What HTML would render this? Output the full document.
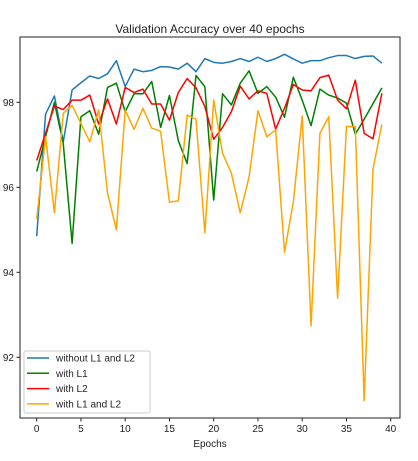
<!DOCTYPE html>
<html><head><meta charset="utf-8"><style>
body{margin:0;background:#fff;}
svg text{font-family:"Liberation Sans","DejaVu Sans",sans-serif;fill:#222;}
</style></head><body>
<svg id="chart" width="418" height="456" xmlns="http://www.w3.org/2000/svg">
<rect width="418" height="456" fill="#fff"/>
<text x="210" y="33" font-size="12" text-anchor="middle">Validation Accuracy over 40 epochs</text>
<g id="grid"></g>
<g id="series"></g>
<rect x="20" y="37" width="380" height="381" fill="none" stroke="#222" stroke-width="1"/>
<text x="210" y="447" font-size="10" text-anchor="middle">Epochs</text>
<g id="legend">
<rect x="24" y="351" width="126" height="62" rx="2" fill="#fff" fill-opacity="0.8" stroke="#ccc"/>
</g>
</svg>
<script>
const epochs=[...Array(40).keys()];
const blueVals=[94.85,97.72,98.15,97.07,98.29,98.46,98.62,98.56,98.67,98.98,98.37,98.78,98.72,98.75,98.84,98.83,98.78,98.92,98.72,99.03,98.94,98.92,98.96,99.03,98.96,99.06,98.96,99.03,99.13,99.02,98.92,98.98,98.98,99.05,99.1,99.1,99.03,99.08,99.09,98.92];
const greenVals=[96.37,97.19,98.0,97.03,94.68,97.66,97.8,97.25,98.35,98.45,97.78,98.2,98.2,98.49,97.41,98.16,97.1,96.56,98.63,98.37,95.7,98.2,97.94,98.45,98.74,98.21,98.37,98.12,97.65,98.59,98.05,97.45,98.31,98.17,98.1,97.98,97.25,97.6,97.97,98.34];
const redVals=[96.63,97.27,97.91,97.83,98.05,98.05,98.17,97.49,98.08,97.49,98.35,98.23,98.31,97.96,97.96,97.58,98.23,98.56,98.34,97.9,97.13,97.41,97.78,98.38,98.08,98.27,98.21,97.37,97.86,98.42,98.29,98.27,98.58,98.64,98.05,97.85,98.52,97.27,97.14,98.21];
const orangeVals=[95.25,97.19,95.4,97.74,97.93,97.5,97.07,97.82,95.87,95.0,97.82,97.36,97.86,97.39,97.32,95.65,95.68,97.7,97.6,94.93,98.05,96.8,96.33,95.4,96.25,97.8,97.19,97.35,94.47,95.66,97.68,92.74,97.27,97.66,93.39,97.43,97.43,90.98,96.43,97.48];
const xTicks=[0,5,10,15,20,25,30,35,40];
const yTicks=[92,94,96,98];
const seriesNames=["without L1 and L2","with L1","with L2","with L1 and L2"];
const seriesColors=["#1f77b4","green","red","orange"];
const NS="http://www.w3.org/2000/svg";
function xs(v){return 36.7+8.85*v;}
function ys(v){return 272.3-(v-94)*42.5;}
function mk(t,a,p){const e=document.createElementNS(NS,t);for(const k in a)e.setAttribute(k,a[k]);p.appendChild(e);return e;}
const grid=document.getElementById('grid');
xTicks.forEach(t=>{
  const l=mk('line',{x1:xs(t),x2:xs(t),y1:418,y2:421.5,stroke:'#222'},grid);
  
  
  const tx=mk('text',{x:xs(t),y:432,'font-size':10,'text-anchor':'middle'},grid);
  tx.textContent=t;
  
  
});
yTicks.forEach(t=>{
  const l=mk('line',{x1:16.5,x2:20,y1:ys(t),y2:ys(t),stroke:'#222'},grid);
  
  
  const tx=mk('text',{x:14,y:ys(t)+3.5,'font-size':10,'text-anchor':'end'},grid);
  tx.textContent=t;
  
  
});
const all=[blueVals,greenVals,redVals,orangeVals];
const sg=document.getElementById('series');
all.forEach((vals,i)=>{
  const p=mk('polyline',{points:vals.map((v,j)=>xs(epochs[j])+','+ys(v)).join(' '),fill:'none',stroke:seriesColors[i],'stroke-width':1.5,'stroke-linejoin':'round'},sg);
  
  
});
const lg=document.getElementById('legend');
seriesNames.forEach((n,i)=>{
  const y=358+15.3*i;
  const l=mk('line',{x1:27,x2:49,y1:y,y2:y,stroke:seriesColors[i],'stroke-width':1.5},lg);
  
  
  const t=mk('text',{x:56,y:y+3.5,'font-size':10},lg);
  t.textContent=n;
  
  
});
</script>
</body></html>
